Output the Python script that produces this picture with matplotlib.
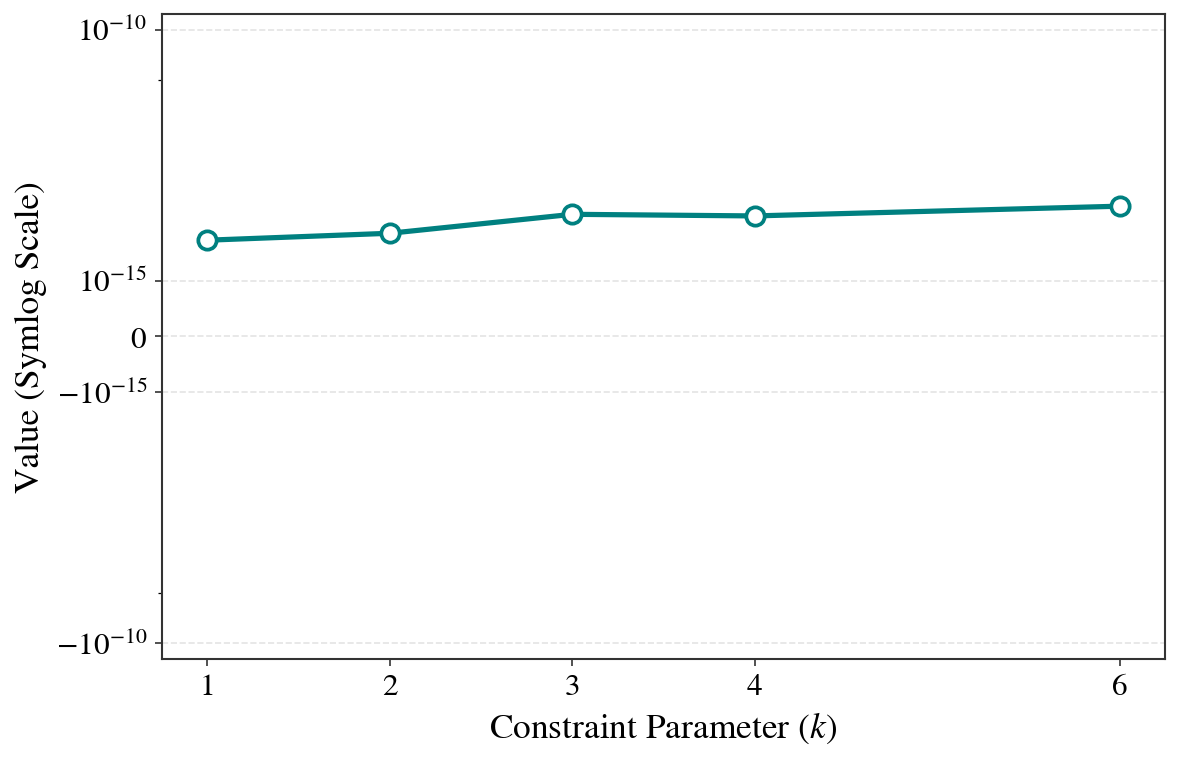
import numpy as np
import matplotlib
matplotlib.use("Agg")
import matplotlib.pyplot as plt

# data
k_values = [1, 2, 3, 4, 6]
values = [6.4e-15, 8.8e-15, 2.1e-14, 1.95e-14, 3.05e-14]
y_major = [-1e-10, -1e-15, 0, 1e-15, 1e-10]
y_minor = [-1e-11, 1e-11]

plt.rcParams['font.family'] = ['STIXGeneral', 'DejaVu Serif']
plt.rcParams['mathtext.fontset'] = 'stix'

fig, ax = plt.subplots(figsize=(7.874, 5.06), dpi=150)
fig.subplots_adjust(left=0.137, right=0.9865, top=0.980, bottom=0.131)

ax.plot(k_values, values, color='#008080', linewidth=2.5, marker='o',
        markersize=8.8, markerfacecolor='white', markeredgecolor='#008080',
        markeredgewidth=1.8, zorder=3)

ax.set_yscale('symlog', linthresh=1e-15)
ax.set_ylim(-2.05e-10, 2.05e-10)
ax.set_yticks(y_major)
ax.set_yticks(y_minor, minor=True)
ax.set_xticks(k_values)

ax.set_xlabel('Constraint Parameter ($k$)', fontsize=17)
ax.set_ylabel('Value (Symlog Scale)', fontsize=17)
ax.tick_params(labelsize=15, color='#333333')

ax.grid(axis='y', which='major', linestyle='--', color='#dddddd', linewidth=0.8, alpha=0.8)
for s in ax.spines.values():
    s.set_color('#333333')
    s.set_linewidth(1.0)

fig.savefig('out.png', dpi=150)
